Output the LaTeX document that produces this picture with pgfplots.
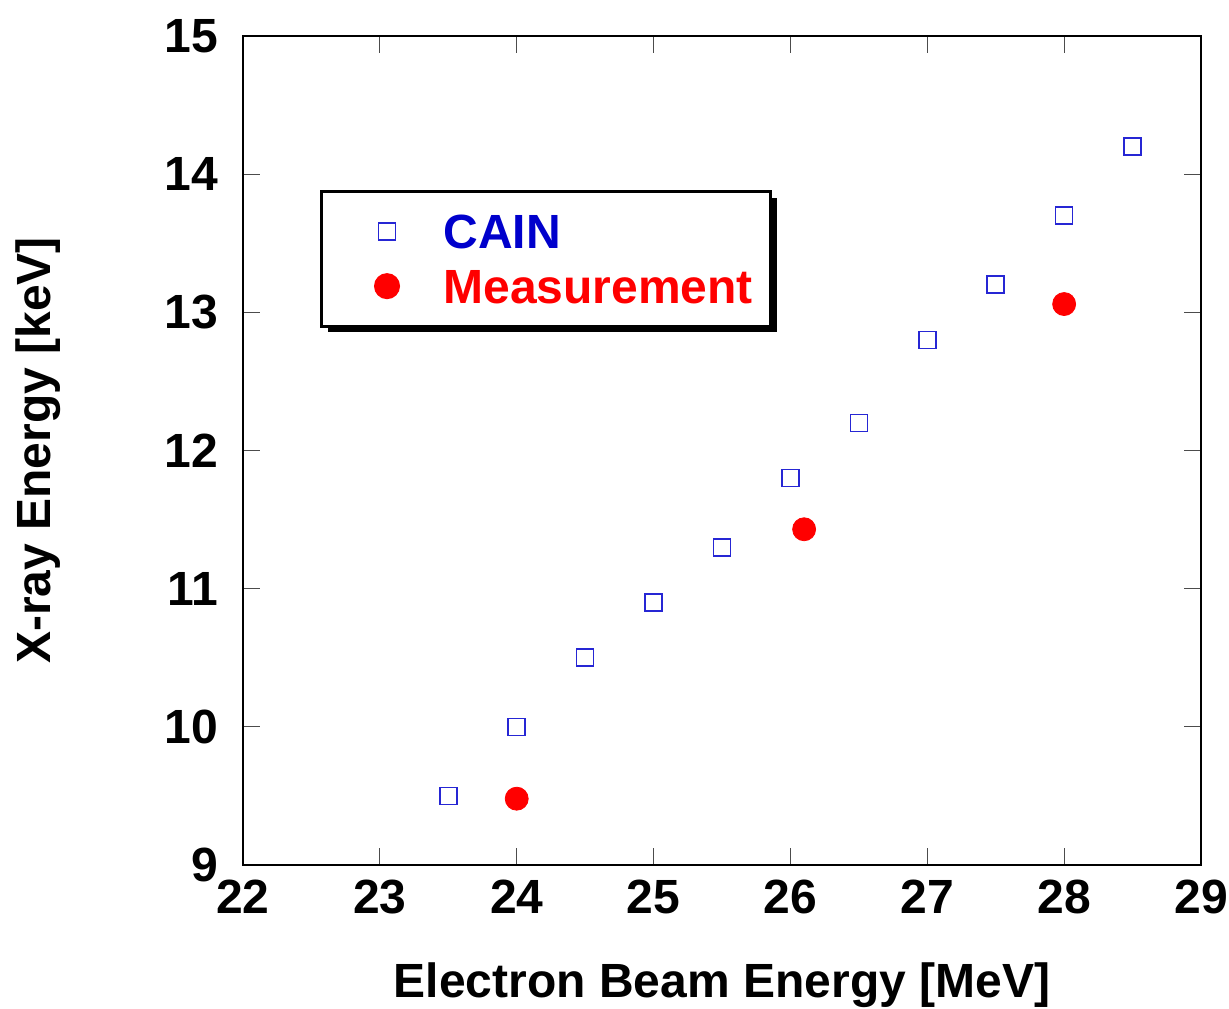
\documentclass[border=0pt]{standalone}
\usepackage{pgfplots}
\pgfplotsset{compat=1.18}
\usepackage{fontspec}
\setmainfont{Liberation Sans}
\usetikzlibrary{shadows}
\definecolor{cainblue}{RGB}{0,0,204}
\definecolor{measred}{RGB}{255,0,0}
\begin{document}
\begin{tikzpicture}
\begin{axis}[
  scale only axis,
  width=479pt, height=414.5pt,
  xmin=22, xmax=29, ymin=9, ymax=15,
  xtick={22,...,29}, ytick={9,...,15},
  tick align=inside,
  major tick length=8.5pt,
  tick style={line width=0.5pt, black!70},
  axis line style={line width=1pt},
  /pgf/number format/assume math mode=true,
  ticklabel style={font=\fontsize{24}{27}\selectfont\bfseries},
  xticklabel style={yshift=-4pt},
  yticklabel style={xshift=-9pt},
  xlabel={Electron Beam Energy [MeV]},
  ylabel={X-ray Energy [keV]},
  label style={font=\fontsize{24}{27}\selectfont\bfseries},
  xlabel style={at={(rel axis cs:0.5,0)}, anchor=center, yshift=-60pt},
  ylabel style={at={(rel axis cs:0,0.5)}, anchor=center, yshift=102.5pt},
  legend style={at={(0.0804,0.8142)}, anchor=north west, draw=black, line width=1.5pt,
    drop shadow={shadow xshift=3pt, shadow yshift=-3pt, fill=black, opacity=1},
    fill=white, inner xsep=1pt, inner ysep=6.5pt,
    font=\fontsize{24}{27}\selectfont\bfseries,
    nodes={inner xsep=8pt, inner ysep=5pt, text height=17.2pt, text depth=0pt}},
  legend cell align=left,
  legend image code/.code={\path (-31pt,0pt) (19.5pt,0pt); \draw[#1] plot coordinates {(0pt,0pt)};},
]
\addplot[only marks, mark=square, mark size=4.25pt, draw=cainblue!85!white, mark options={line width=0.8pt}] coordinates {
(23.5,9.5) (24,10) (24.5,10.5) (25,10.9) (25.5,11.3) (26,11.8) (26.5,12.2) (27,12.8) (27.5,13.2) (28,13.7) (28.5,14.2)};
\addlegendentry{\textcolor{cainblue}{CAIN}}
\addplot[only marks, mark=*, mark size=5.75pt, color=measred] coordinates {
(24,9.48) (26.1,11.43) (28,13.06)};
\addlegendentry{\textcolor{measred}{Measurement}}
\end{axis}
\pgfresetboundingbox
\path (current axis.south west) ++(-121.5pt,-71.5pt) rectangle ++(614.5pt,504pt);
\end{tikzpicture}
\end{document}
